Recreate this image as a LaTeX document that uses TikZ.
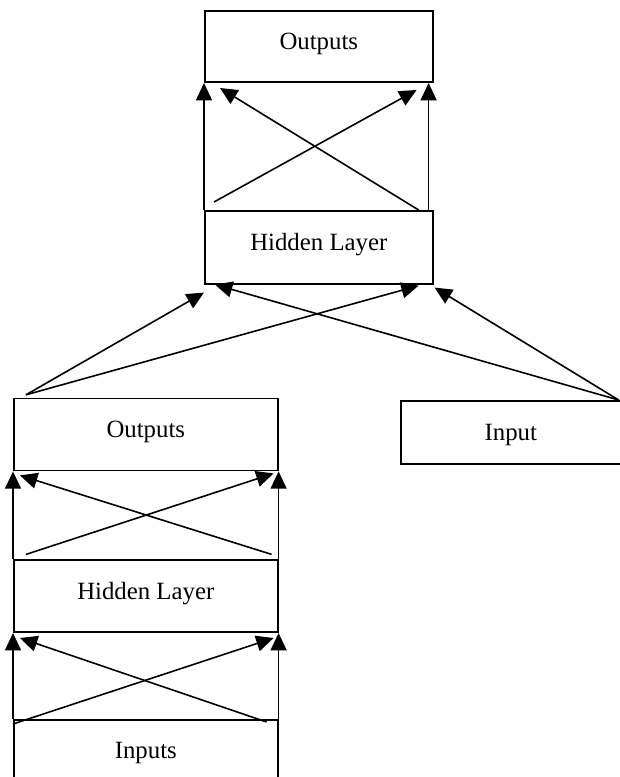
\documentclass[tikz,border=0pt]{standalone}
\usepackage{fontspec}
\setmainfont{Liberation Serif}
\usepackage{tikz}
\usetikzlibrary{arrows.meta, positioning}

\begin{document}
\begin{tikzpicture}[
    x=0.75pt, y=0.75pt,
    font=\fontsize{18.6}{22}\selectfont,
    layer/.style={draw, line width=1.2pt, inner sep=0pt, text height=13pt, text depth=8.5pt},
    wide/.style={layer, minimum width=198pt, minimum height=54pt},
    narrow/.style={layer, minimum width=171pt, minimum height=53.5pt},
    arrow/.style={-{Triangle[length=13pt, width=12pt]}, line width=1.2pt}
]
    \useasboundingbox (0,0) rectangle (619,-777);

    % First network
    \node[wide, anchor=north west] (inputs) at (13,-719) {Inputs};
    \node[wide, above=64.5pt of inputs] (hid1) {Hidden Layer};
    \node[wide, above=66pt of hid1] (outs1) {Outputs};

    % Extra input
    \node[layer, text height=14pt, text depth=2pt, minimum width=165pt, minimum height=47.25pt,
          anchor=north west] (input) at (400,-400) {Input};

    % Second network
    \node[narrow, anchor=north west, minimum height=54.75pt] (hid2) at (204,-210) {Hidden Layer};
    \node[narrow, above=95.25pt of hid2] (outs2) {Outputs};

    % Connections
    \draw[arrow] (inputs.north west) -- (hid1.south west); \draw[arrow] (inputs.north east) -- (hid1.south east);
    \draw[arrow] ([yshift=-3.75pt]inputs.north west) -- ([shift={(-3.75pt,-3.75pt)}]hid1.south east);
    \draw[arrow] ([shift={(-9pt,-2.25pt)}]inputs.north east) -- ([shift={(5.25pt,-3.75pt)}]hid1.south west);

    \draw[arrow] (hid1.north west) -- (outs1.south west); \draw[arrow] (hid1.north east) -- (outs1.south east);
    \draw[arrow] ([shift={(9.75pt,3.75pt)}]hid1.north west) -- ([shift={(-3.75pt,-1.5pt)}]outs1.south east);
    \draw[arrow] ([shift={(-5.25pt,3.75pt)}]hid1.north east) -- ([shift={(5.25pt,-3pt)}]outs1.south west);

    \coordinate (lsrc) at ([shift={(9.75pt,2.25pt)}]outs1.north west);
    \coordinate (rsrc) at ([xshift=-2.25pt]input.north east);
    \draw[arrow] (lsrc) -- ([yshift=-6pt]hid2.south west);
    \draw[arrow] (lsrc) -- ([shift={(-11.25pt,-0.75pt)}]hid2.south east);
    \draw[arrow] (rsrc) -- ([xshift=8.25pt]hid2.south west);
    \draw[arrow] (rsrc) -- ([shift={(0.75pt,-2.25pt)}]hid2.south east);

    \draw[arrow] (hid2.north west) -- (outs2.south west);
    \draw[arrow] ([xshift=-3.75pt]hid2.north east) -- ([xshift=-3.75pt]outs2.south east);
    \draw[arrow] ([shift={(7.5pt,6pt)}]hid2.north west) -- ([shift={(-12.75pt,-5.25pt)}]outs2.south east);
    \draw[arrow] ([xshift=-11.25pt]hid2.north east) -- ([shift={(12pt,-3.75pt)}]outs2.south west);
\end{tikzpicture}
\end{document}
